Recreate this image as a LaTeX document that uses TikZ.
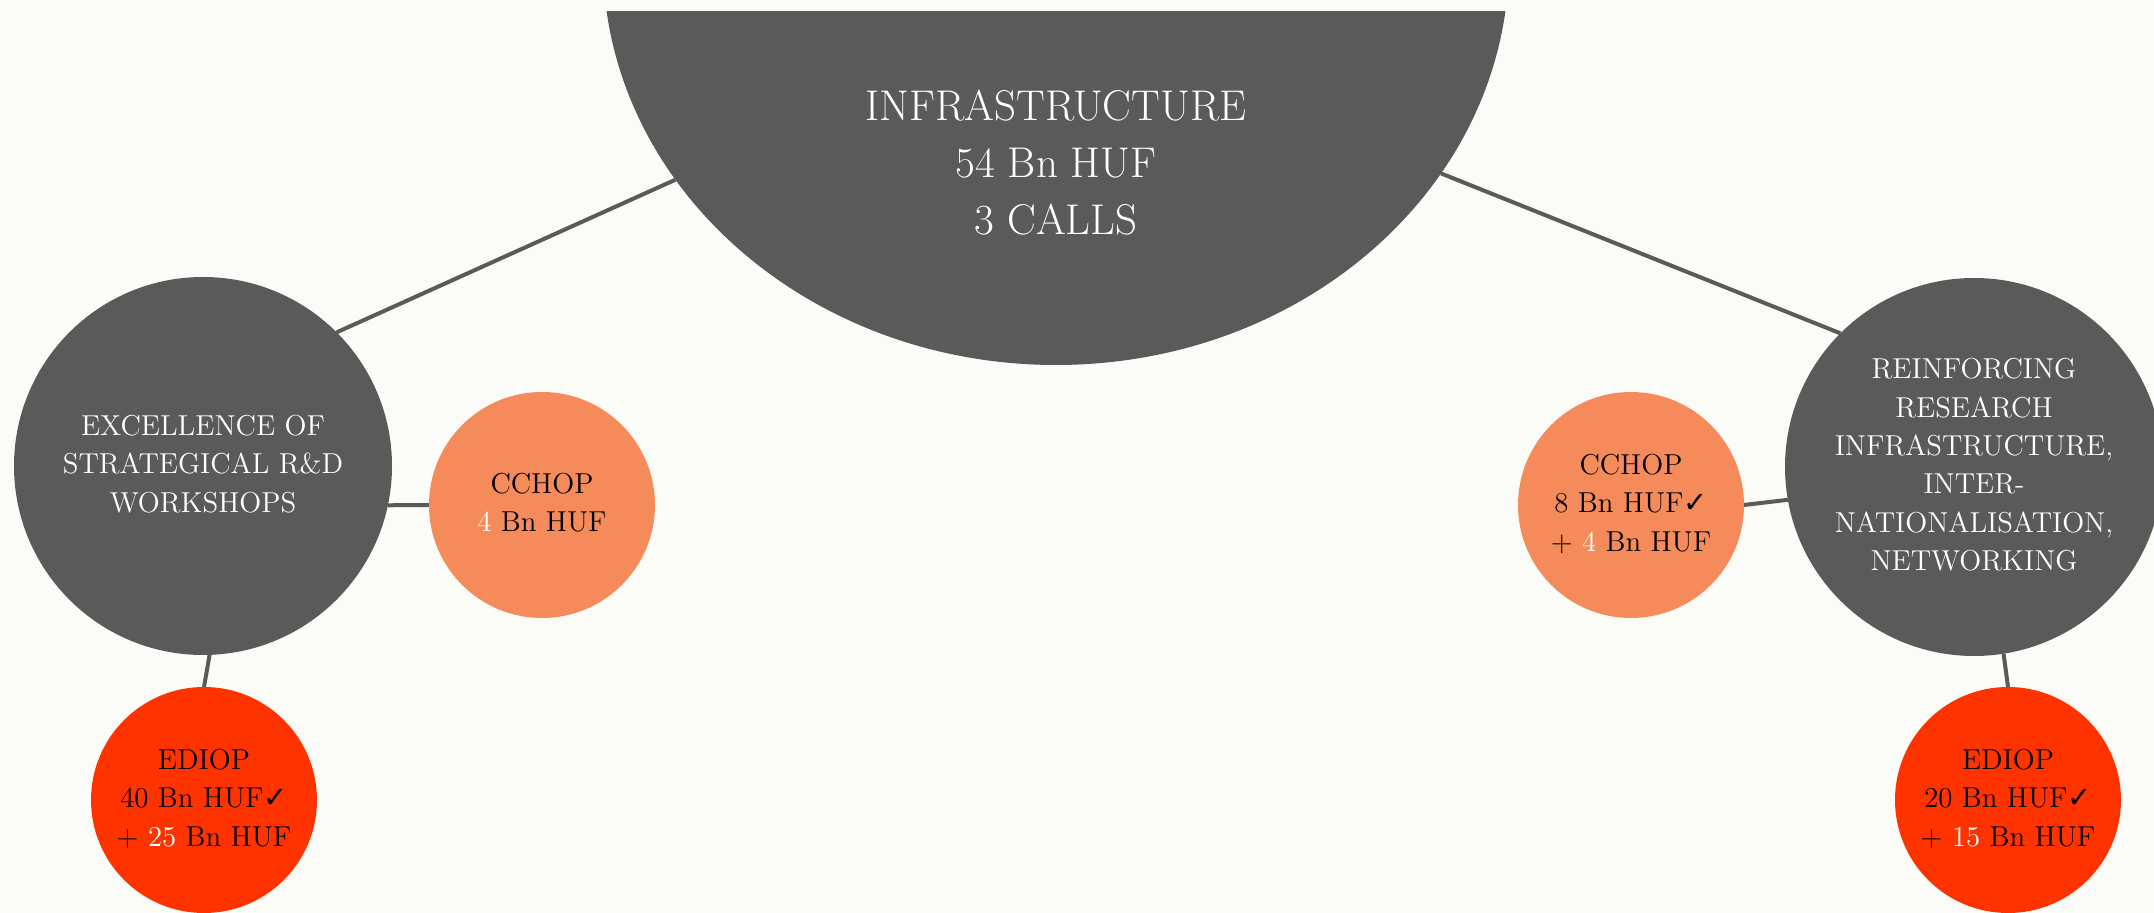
\documentclass[tikz,border=0pt]{standalone}
\usepackage{fontspec}
\usetikzlibrary{shapes.geometric}
\newfontfamily\symfont{DejaVu Sans}
\definecolor{bgpaper}{HTML}{FBFCF7}
\definecolor{dkgrey}{HTML}{5A5A5A}
\definecolor{peach}{HTML}{F58B5B}
\definecolor{scarlet}{HTML}{FF3300}
\newcommand\ck{{\symfont ✓}}
\newcommand\ctext[1]{\makebox[0pt]{\begin{tabular}{@{}c@{}}#1\end{tabular}}}
\pgfdeclarelayer{paper}
\pgfdeclarelayer{links}
\pgfsetlayers{paper,links,main}
\begin{document}
\begin{tikzpicture}[x=0.5pt,y=-0.5pt,
  bubble/.style={circle, inner sep=0pt, outer sep=0pt, font=\fontsize{14.4}{19.2}\selectfont},
  darkb/.style={bubble, fill=dkgrey, text=white, minimum size=189pt},
  cchop/.style={bubble, fill=peach, text=black, minimum size=113pt},
  ediop/.style={bubble, fill=scarlet, text=black, minimum size=113pt},
  link/.style={draw=dkgrey, line width=2pt}]
\begin{pgfonlayer}{paper}
\fill[bgpaper] (0,0) rectangle (2154,913);
\end{pgfonlayer}
\useasboundingbox (0,0) rectangle (2154,913);
\begin{scope}
\clip (0,12) rectangle (2154,913);
\node[ellipse, fill=dkgrey, minimum width=453pt, minimum height=405pt, inner sep=0pt, outer sep=0pt] (top) at (1056,-40) {};
\end{scope}
\node[text=white, inner sep=0pt, font=\fontsize{21.5}{28.5}\selectfont] (toptext) at (1056,166) {\ctext{INFRASTRUCTURE\\54 Bn HUF\\3 CALLS}};
\node[darkb] (L) at (203,466) {\ctext{EXCELLENCE OF\\STRATEGICAL R\&D\\WORKSHOPS}};
\node[cchop] (CL) at (542,505) {\ctext{CCHOP\\\textcolor{white}{4} Bn HUF}};
\node[ediop] (EL) at (204,800) {\ctext{EDIOP\\40 Bn HUF\ck\\+ \textcolor{white}{25} Bn HUF}};
\node[darkb] (R) at (1974,467) {\ctext{REINFORCING\\RESEARCH\\INFRASTRUCTURE,\\INTER-\\NATIONALISATION,\\NETWORKING}};
\node[cchop] (CR) at (1631,505) {\ctext{CCHOP\\8 Bn HUF\ck\\+ \textcolor{white}{4} Bn HUF}};
\node[ediop] (ER) at (2008,800) {\ctext{EDIOP\\20 Bn HUF\ck\\+ \textcolor{white}{15} Bn HUF}};
\begin{pgfonlayer}{links}
\draw[link] (top.210.4) -- (L.45);
\draw[link] (top.331.4) -- (R.135);
\draw[link] (L.-12) -- (CL.180);
\draw[link] (L.-88) -- (EL.90);
\draw[link] (CR.0) -- (R.190);
\draw[link] (R.-81) -- (ER.90);
\end{pgfonlayer}
\end{tikzpicture}
\end{document}
